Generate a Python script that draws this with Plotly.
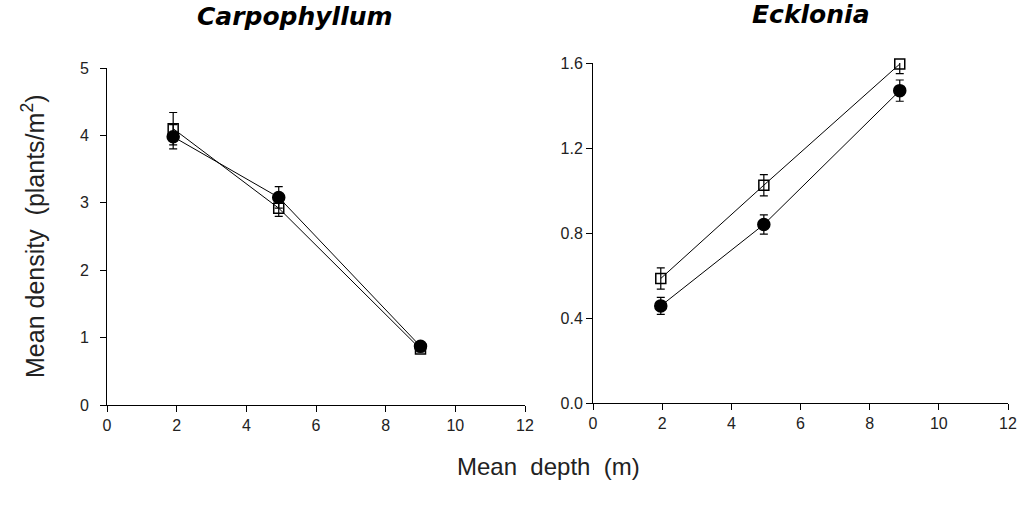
import plotly.graph_objects as go

# Carpophyllum (left panel)
carp_depth = [1.9, 4.93, 9.0]
carp_open = [4.10, 2.92, 0.83]
carp_open_err = [0.24, 0.12, 0.04]
carp_filled = [3.98, 3.08, 0.87]
carp_filled_err = [0.18, 0.16, 0.04]

# Ecklonia (right panel)
eck_depth = [1.96, 4.94, 8.87]
eck_open = [0.586, 1.025, 1.595]
eck_open_err = [0.05, 0.05, 0.045]
eck_filled = [0.457, 0.84, 1.47]
eck_filled_err = [0.04, 0.045, 0.05]

left_yticks = [0, 1, 2, 3, 4, 5]
right_yticks = [0.0, 0.4, 0.8, 1.2, 1.6]
right_ytick_text = ["0.0", "0.4", "0.8", "1.2", "1.6"]
xticks = [0, 2, 4, 6, 8, 10, 12]

fig = go.Figure()

def add_series(x, y, err, filled, xa, ya):
    fig.add_trace(go.Scatter(
        x=x, y=y, xaxis=xa, yaxis=ya, mode="lines+markers",
        line=dict(color="black", width=1),
        marker=dict(
            symbol="circle" if filled else "square-open",
            size=12 if filled else 10,
            color="black",
            line=dict(color="black", width=1.5),
        ),
        error_y=dict(type="data", array=err, color="black", thickness=1.2, width=4),
        cliponaxis=False,
        showlegend=False,
    ))

add_series(carp_depth, carp_open, carp_open_err, False, "x", "y")
add_series(carp_depth, carp_filled, carp_filled_err, True, "x", "y")
add_series(eck_depth, eck_open, eck_open_err, False, "x2", "y2")
add_series(eck_depth, eck_filled, eck_filled_err, True, "x2", "y2")

W, H = 1031, 507
axis_font = dict(family="Liberation Sans, Arial, sans-serif", size=16, color="#222")
common_x = dict(range=[0, 12], tickvals=xticks, showgrid=False, zeroline=False,
                showline=True, linecolor="black", linewidth=1, ticks="outside",
                ticklen=6, tickcolor="black", tickfont=axis_font, automargin=False)
common_y = dict(showgrid=False, zeroline=False, showline=True, linecolor="black",
                linewidth=1, ticks="outside", ticklen=6, tickcolor="black",
                tickfont=axis_font, automargin=False)

def note(text, x, y, size, family, color="#222", angle=0):
    return dict(text=text, x=x / W, y=1 - y / H, xref="paper", yref="paper",
                xanchor="center", yanchor="middle", showarrow=False, textangle=angle,
                font=dict(family=family, size=size, color=color))

fig.update_layout(
    width=W, height=H,
    margin=dict(l=0, r=0, t=0, b=0, autoexpand=False),
    paper_bgcolor="white", plot_bgcolor="white",
    xaxis=dict(domain=[107 / W, 525 / W], anchor="y", **common_x),
    yaxis=dict(domain=[1 - 405 / H, 1 - 68 / H], anchor="x", range=[0, 5],
               tickvals=left_yticks, ticklabelstandoff=8, **common_y),
    xaxis2=dict(domain=[593 / W, 1008 / W], anchor="y2", **common_x),
    yaxis2=dict(domain=[1 - 403 / H, 1 - 63 / H], anchor="x2", range=[0, 1.6],
                tickvals=right_yticks, ticktext=right_ytick_text, **common_y),
    annotations=[
        note("<b><i>Carpophyllum</i></b>", 295, 16, 25, "DejaVu Sans, sans-serif", "black"),
        note("<b><i>Ecklonia</i></b>", 811, 14, 25, "DejaVu Sans, sans-serif", "black"),
        note("Mean density  (plants/m<sup>2</sup>)", 33, 237, 25,
             "Liberation Sans, Arial, sans-serif", angle=-90),
        note("Mean  depth  (m)", 548, 466, 24, "Liberation Sans, Arial, sans-serif"),
    ],
)

fig.write_html("out.html", config={"displayModeBar": False},
               post_script="document.body.style.margin='0';")
